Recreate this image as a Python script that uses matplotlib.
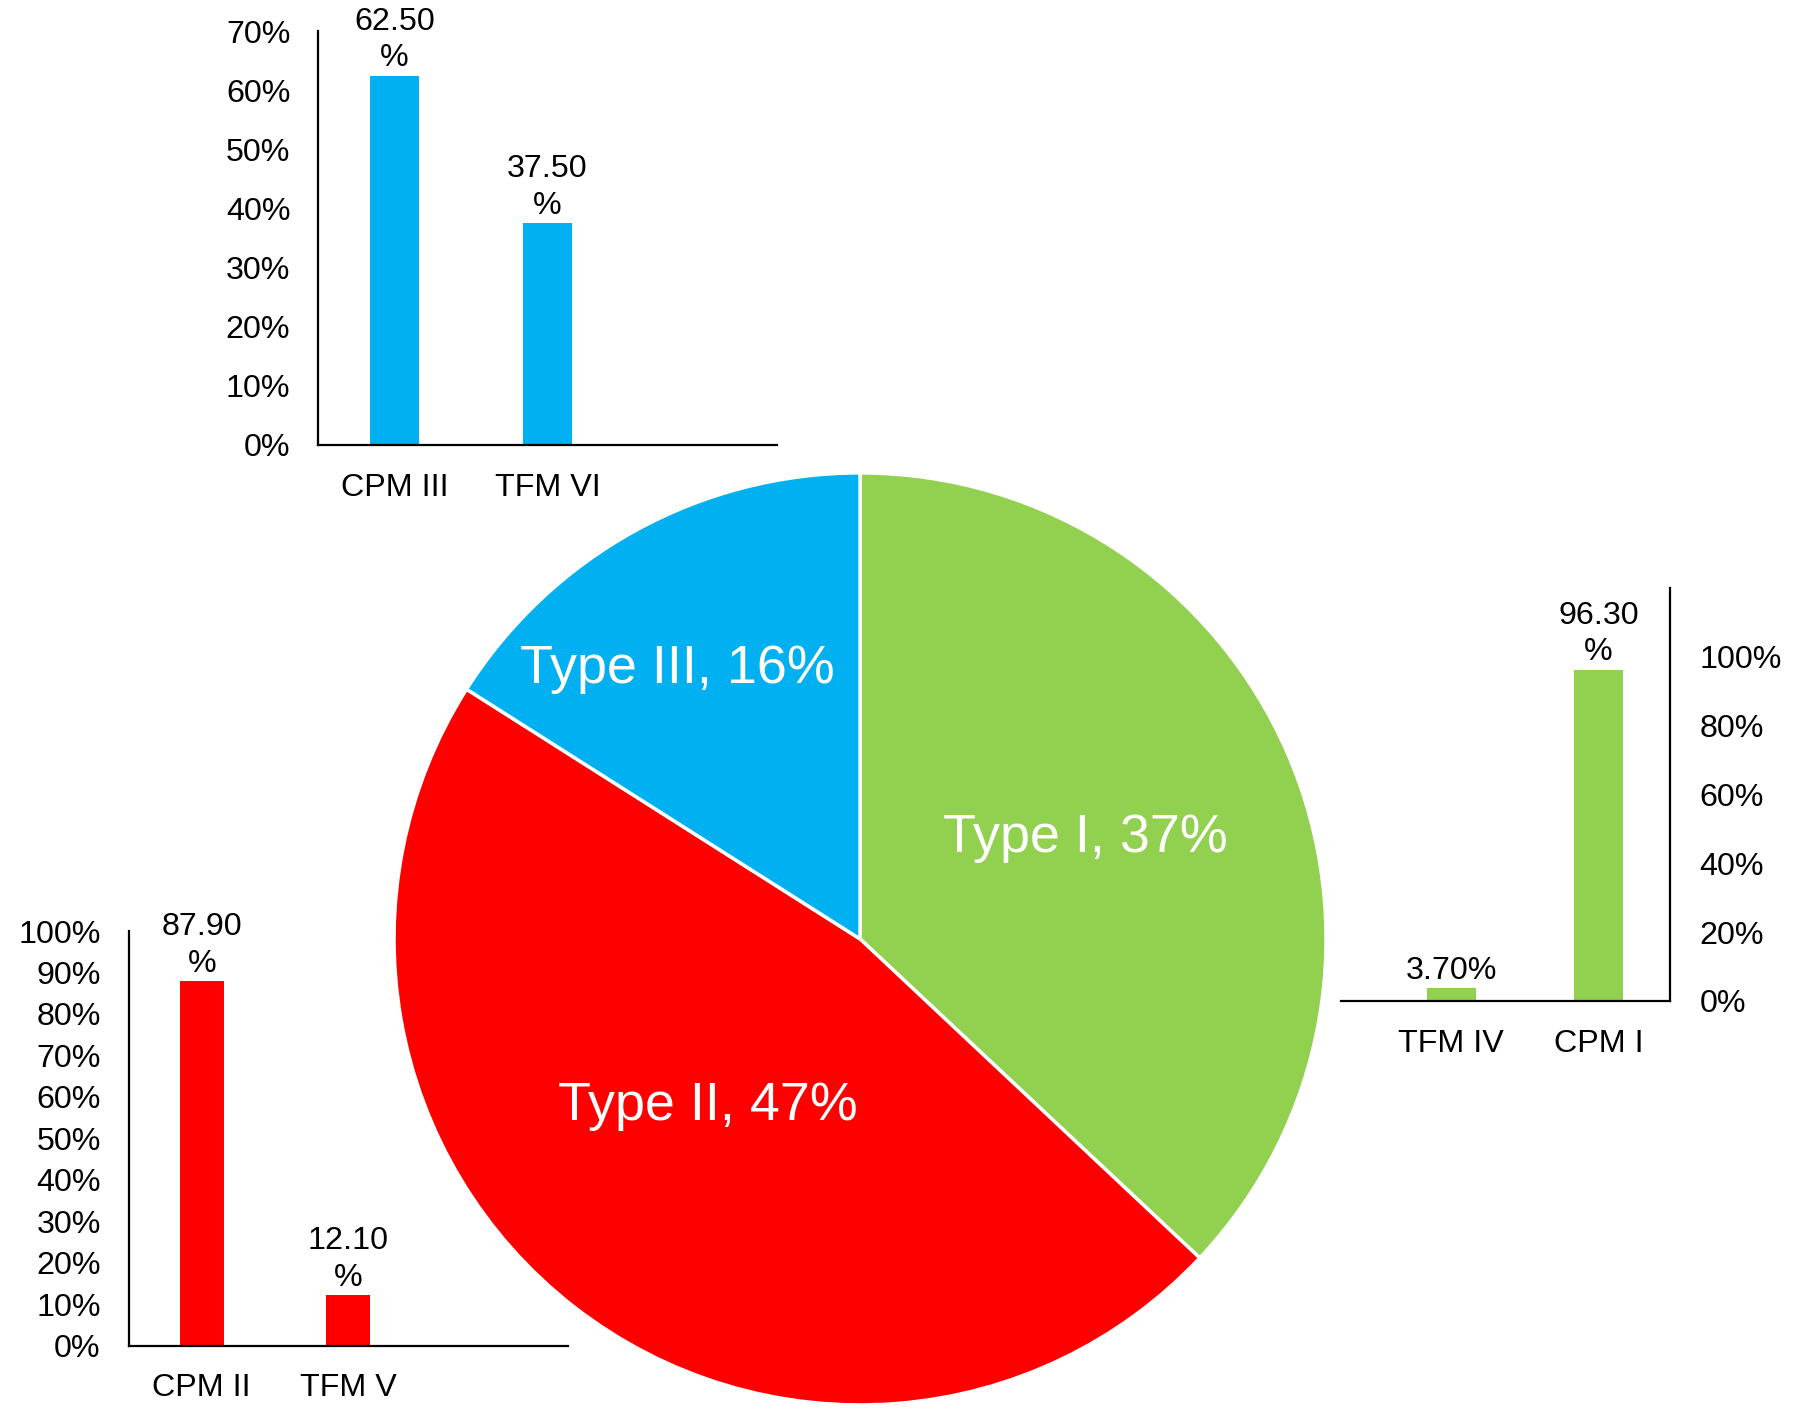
import matplotlib.pyplot as plt

plt.rcParams['font.family'] = ['Liberation Sans', 'DejaVu Sans']

# pie: share of each type
pie_labels = ["Type I", "Type II", "Type III"]
pie_values = [37, 47, 16]
pie_colors = ["#92D050", "#FF0000", "#00B0F0"]
# where the label text sits inside each wedge (pie units)
pie_text_pos = [(0.484, 0.217), (-0.326, -0.358), (-0.393, 0.580)]

# Type III breakdown (top chart)
t3_cats = ["CPM III", "TFM VI", ""]
t3_vals = [62.5, 37.5, None]

# Type II breakdown (bottom-left chart)
t2_cats = ["CPM II", "TFM V", ""]
t2_vals = [87.9, 12.1, None]

# Type I breakdown (right chart)
t1_cats = ["TFM IV", "CPM I"]
t1_vals = [3.7, 96.3]

FS = 23.2

fig = plt.figure(figsize=(18, 14.21), dpi=100)

# ---- pie ----
ax_pie = fig.add_axes([0.2189, 0.01126, 0.5178, 0.656])
ax_pie.pie(pie_values, colors=pie_colors, startangle=90, counterclock=False,
           wedgeprops=dict(edgecolor='white', linewidth=2.5))
for lab, v, (x, y) in zip(pie_labels, pie_values, pie_text_pos):
    ax_pie.text(x, y, f"{lab}, {v}%", color='white', fontsize=38.8,
                ha='center', va='center')
ax_pie.set_xlim(-1, 1)
ax_pie.set_ylim(-1, 1)
ax_pie.set_aspect('equal')
ax_pie.axis('off')


def fmt_label(v):
    if v >= 10:
        return f"{v:.2f}\n%"
    return f"{v:.2f}%"


def bar_chart(rect, cats, vals, color, ymax, ystep, width, right_axis=False,
              xlim=None, ytop_ticks=None):
    ax = fig.add_axes(rect)
    ax.patch.set_alpha(0)
    xs = list(range(len(cats)))
    hx = [x for x, v in zip(xs, vals) if v is not None]
    hv = [v / 100 for v in vals if v is not None]
    ax.bar(hx, hv, width=width, color=color)
    for x, v in zip(hx, hv):
        ax.annotate(fmt_label(v * 100), (x, v), xytext=(0, 1.5),
                    textcoords='offset points', ha='center', va='bottom',
                    fontsize=FS, linespacing=1.3, annotation_clip=False)
    ax.set_ylim(0, ymax)
    top = ytop_ticks if ytop_ticks is not None else ymax
    ticks = [i * ystep for i in range(int(round(top / ystep)) + 1)]
    ax.set_yticks(ticks)
    ax.set_yticklabels([f"{round(t * 100)}%" for t in ticks])
    ax.set_xticks(xs)
    ax.set_xticklabels(cats)
    if xlim is not None:
        ax.set_xlim(*xlim)
    else:
        ax.set_xlim(-0.5, len(cats) - 0.5)
    ax.tick_params(axis='both', length=0, labelsize=FS)
    ax.tick_params(axis='y', pad=20)
    ax.tick_params(axis='x', pad=20)
    ax.spines['top'].set_visible(False)
    if right_axis:
        ax.spines['left'].set_visible(False)
        ax.yaxis.tick_right()
        ax.tick_params(axis='y', pad=21)
        ax.spines['right'].set_linewidth(1.6)
    else:
        ax.spines['right'].set_visible(False)
        ax.spines['left'].set_linewidth(1.6)
    ax.spines['bottom'].set_linewidth(1.6)
    return ax


bar_chart([0.1767, 0.687, 0.255, 0.291], t3_cats, t3_vals, "#00B0F0",
          0.7, 0.1, 0.32)
bar_chart([0.0714, 0.0531, 0.244, 0.2917], t2_cats, t2_vals, "#FF0000",
          1.0, 0.1, 0.30)
bar_chart([0.745, 0.2956, 0.183, 0.2906], t1_cats, t1_vals, "#92D050",
          1.2, 0.2, 0.33, right_axis=True, xlim=(-0.75, 1.49), ytop_ticks=1.0)

fig.savefig("out.png", dpi=100)
